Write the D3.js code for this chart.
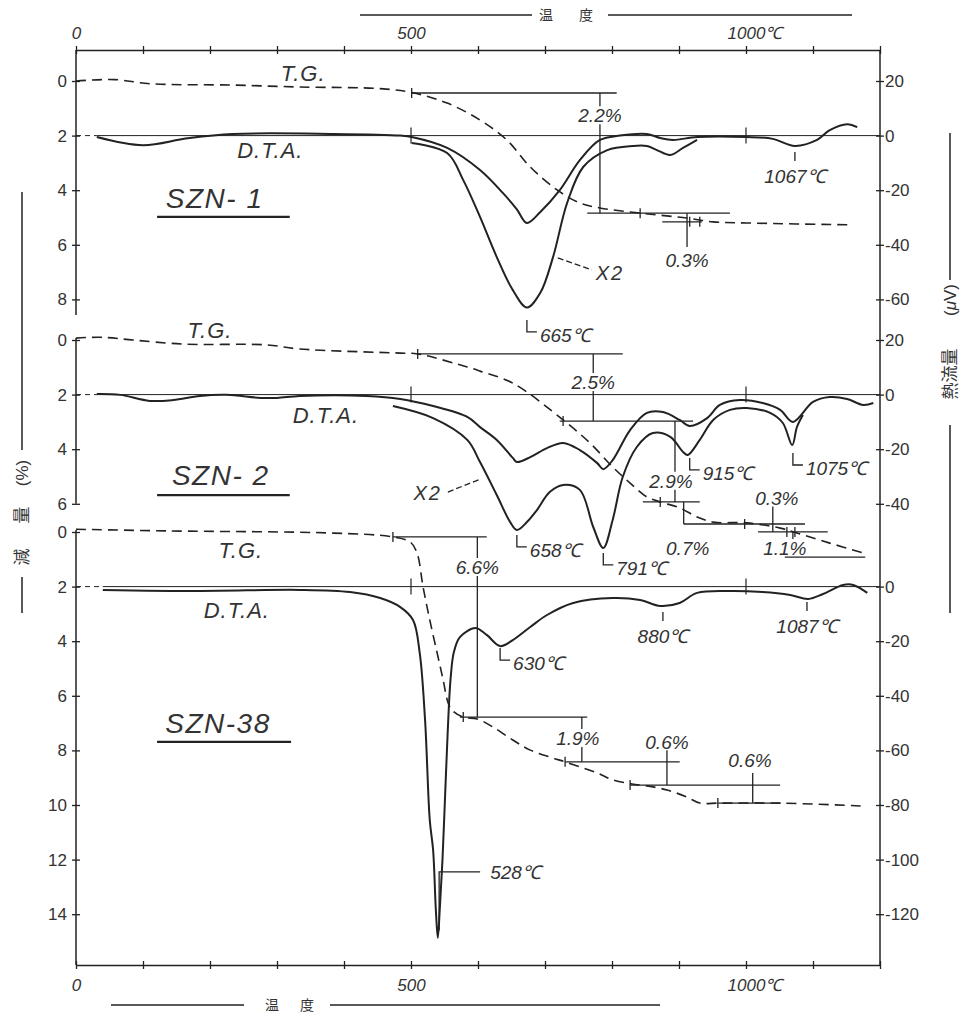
<!DOCTYPE html>
<html>
<head>
<meta charset="utf-8">
<script src="https://cdn.jsdelivr.net/npm/d3@7"></script>
<style>
  body { margin: 0; background: #fff; }
  svg text { font-family: "Liberation Sans", Arial, sans-serif; fill: #333; }
  svg text.cjk { font-family: "Noto Sans CJK JP", "Noto Sans CJK SC", sans-serif; }
  .it { font-style: italic; }
</style>
</head>
<body>
<svg id="chart" width="965" height="1017"></svg>
<script>
// temperature axis (°C)
const tempTicks = d3.range(0, 1201, 100);
const tempLabels = [0, 500, 1000];

// ---- SZN-1 : [temp °C, T.G. %] and [temp °C, D.T.A. μV]
const tg1 = [[0,0],[58,-0.05],[110,0.1],[234,0.15],[334,0.22],[454,0.28],[501,0.42],[554,0.81],[603,1.43],[643,2.16],[678,3.15],[718,3.99],[752,4.47],[782,4.65],[842,4.84],[912,5.02],[951,5.16],[1001,5.2],[1160,5.27]];
const dta1 = [[31,-0.5],[100,-3.5],[166,-1],[234,0.6],[384,0.6],[484,0],[501,-0.5],[554,-4.5],[603,-12.6],[637,-21],[658,-27],[673,-32],[693,-28],[722,-20],[752,-9],[782,-1.6],[812,0],[852,0.6],[872,-0.9],[891,-1.6],[927,-0.5],[1001,-0.5],[1040,-1.2],[1073,-3.8],[1106,-1.6],[1125,2],[1151,4.2],[1166,3.1]];
const dta1x2 = [[501,-2.7],[554,-6.4],[578,-16.3],[603,-29.8],[628,-44.5],[652,-56.6],[673,-63],[693,-57.6],[712,-44.5],[733,-24.7],[757,-11.5],[793,-5.3],[831,-3.8],[852,-3.8],[867,-5.3],[887,-7.1],[906,-4.5],[927,-1.6]];
const stepLines1 = [[501,807,0.44],[763,976,4.84],[875,934,5.16]];
const stepBars1 = [
  {lbl:'2.2%', t:782, v:[0.44,4.84], la:1.25},
  {lbl:'0.3%', t:912, v:[4.84,6.08], la:6.56}
];
const stepTicks1 = [[501,0.44],[842,4.84],[916,5.16],[931,5.16]];
const peaks1 = [
  {t:673, v:-67.5, lbl:'665℃', kind:'L'},
  {t:1073, v:-6, lbl:'1067℃', kind:'tick'}
];

// ---- SZN-2
const tg2 = [[0,-0.07],[36,-0.1],[85,0],[160,0.15],[285,0.18],[334,0.33],[484,0.48],[510,0.51],[584,0.99],[603,1.14],[652,1.58],[727,2.93],[767,3.77],[801,4.65],[827,5.24],[852,5.75],[872,5.93],[901,6.15],[927,6.48],[951,6.67],[1001,6.7],[1051,6.89],[1076,7.07],[1125,7.44],[1175,7.8]];
const dta2 = [[31,0.2],[66,-0.1],[110,-2.3],[145,-2],[185,-0.5],[225,-0.1],[275,-1.2],[300,-1.2],[334,-0.5],[434,-0.5],[484,-1.6],[533,-4.2],[584,-8.2],[603,-11.9],[628,-16.6],[652,-23.2],[658,-24.7],[678,-22.9],[703,-19.6],[727,-17.7],[752,-20.3],[778,-25.1],[787,-27.3],[801,-24],[827,-13],[852,-6.7],[876,-6.4],[901,-9.3],[916,-11.5],[942,-8.6],[961,-3.8],[991,-2],[1025,-3.1],[1051,-5.6],[1070,-10],[1100,-2.7],[1125,-0.9],[1151,-1.6],[1175,-3.8],[1190,-3.1]];
const dta2x2 = [[473,-4.2],[533,-8.6],[584,-16.6],[603,-24.7],[628,-36.8],[648,-46.7],[658,-49.6],[673,-46.7],[688,-42.3],[707,-35.7],[727,-33.1],[752,-34.9],[772,-48.5],[787,-56.2],[801,-45.9],[816,-30.2],[837,-19.2],[861,-14.1],[887,-15.5],[906,-21],[913,-22.1],[931,-16.6],[951,-9.3],[976,-5.6],[1001,-4.9],[1036,-6.7],[1055,-10.4],[1069,-18.5],[1076,-11.9],[1085,-7.5]];
const stepLines2 = [[510,816,0.51],[722,921,2.97],[846,931,5.93],[907,1088,6.74],[1018,1122,7.03],[1058,1178,7.95]];
const stepBars2 = [
  {lbl:'2.5%', t:772, v:[0.51,2.97], la:1.54},
  {lbl:'2.9%', t:894, v:[2.97,5.93], la:5.16, lt:888},
  {lbl:'0.7%', t:907, v:[5.93,6.74], la:7.62, lt:913},
  {lbl:'0.3%', t:1040, v:[6.1,7.03], la:5.79, lt:1046},
  {lbl:'1.1%', t:1070, v:[7.03,7.95], la:7.62, lt:1058}
];
const stepTicks2 = [[510,0.51],[727,2.97],[872,5.93],[998,6.74],[1061,7.03],[1073,7.03]];
const peaks2 = [
  {t:658, v:-51.4, lbl:'658℃', kind:'L'},
  {t:787, v:-58, lbl:'791℃', kind:'L'},
  {t:916, v:-23.2, lbl:'915℃', kind:'L'},
  {t:1070, v:-21.4, lbl:'1075℃', kind:'L'}
];

// ---- SZN-38
const tg3 = [[0,-0.1],[136,-0.04],[384,0.04],[473,0.18],[499,0.37],[509,0.77],[518,2.01],[528,3.22],[539,4.43],[548,5.42],[555,6.23],[561,6.52],[578,6.78],[599,6.85],[622,7.14],[652,7.62],[678,7.99],[712,8.28],[730,8.42],[778,8.83],[801,9.08],[830,9.23],[852,9.3],[882,9.45],[912,9.71],[931,9.93],[961,9.93],[1051,9.93],[1175,10.04]];
const dta3 = [[40,-1.2],[185,-1.6],[334,-1.2],[409,-2],[454,-4.2],[484,-7.5],[503,-12.2],[513,-24.3],[521,-48.9],[528,-85.5],[533,-96.5],[537,-118],[540,-128.7],[543,-118],[547,-100],[551,-76],[555,-52],[559,-34],[564,-24],[573,-18.5],[596,-15.2],[613,-17.7],[633,-21.8],[652,-19.6],[678,-14.8],[703,-10.4],[742,-6],[801,-4.2],[842,-4.9],[872,-7.1],[901,-6],[927,-2.3],[976,-1.6],[1025,-2],[1066,-3.1],[1093,-4.5],[1115,-2.7],[1145,0.6],[1160,0.6],[1181,-2.3]];
const stepLines3 = [[473,613,0.18],[573,763,6.78],[730,901,8.42],[827,1051,9.27],[958,1051,9.93]];
const stepBars3 = [
  {lbl:'6.6%', t:599, v:[0.18,6.78], la:1.28},
  {lbl:'1.9%', t:755, v:[6.78,8.42], la:7.55, lt:749},
  {lbl:'0.6%', t:882, v:[7.99,9.27], la:7.69},
  {lbl:'0.6%', t:1010, v:[8.83,9.93], la:8.35, lt:1006}
];
const stepTicks3 = [[473,0.18],[578,6.78],[730,8.42],[827,9.27],[958,9.93]];
const peaks3 = [
  {t:542, v:-126, v2:-104.5, lbl:'528℃', kind:'hook'},
  {t:633, v:-22.5, lbl:'630℃', kind:'L'},
  {t:876, v:-9.3, lbl:'880℃', kind:'tick'},
  {t:1091, v:-5.6, lbl:'1087℃', kind:'tick'}
];

const leftTicks = [[0,2,4,6,8],[0,2,4,6],[0,2,4,6,8,10,12,14]];
const rightTicks = [[20,0,-20,-40,-60],[20,0,-20,-40],[0,-20,-40,-60,-80,-100,-120]];
const names = ['SZN- 1', 'SZN- 2', 'SZN-38'];

// ---------- layout
const ink = '#222';
const svg = d3.select('#chart');
const x = d3.scaleLinear().domain([0, 1200]).range([76, 880]);
const pxPct = 27.3;                 // px per 1 % (= 10 μV)
const panelTops = [81, 340, 532];
const leftSpan = [[-1.14, 8.57], [-0.07, 6.0], [-0.07, 15.86]];
const notes = [
  {tg:[339,-0.29], dta:[290,2.53], name:[207,4.65], under:[121,319,4.98], x2:{at:[797,-50.3], from:[719,-44.8], to:[770,-49.2]}},
  {tg:[200,-0.37], dta:[373,2.74], name:[216,5.31], under:[121,319,5.68], x2:{at:[525,-36], from:[555,-35.7], to:[603,-31]}},
  {tg:[246,0.66], dta:[240,2.86], name:[212,7.35], under:[121,321,7.69]}
];
const data = [
  {tg:tg1, dta:dta1, x2:dta1x2, lines:stepLines1, bars:stepBars1, ticks:stepTicks1, peaks:peaks1},
  {tg:tg2, dta:dta2, x2:dta2x2, lines:stepLines2, bars:stepBars2, ticks:stepTicks2, peaks:peaks2},
  {tg:tg3, dta:dta3, x2:null, lines:stepLines3, bars:stepBars3, ticks:stepTicks3, peaks:peaks3}
];

function seg(g, x1, y1, x2, y2, w) {
  return g.append('line').attr('x1', x1).attr('y1', y1).attr('x2', x2).attr('y2', y2)
    .attr('stroke', ink).attr('stroke-width', w || 1.3);
}

// temperature axes, top and bottom
function tempAxis(y, top) {
  const ax = (top ? d3.axisTop(x) : d3.axisBottom(x)).tickValues(tempTicks)
    .tickSize(4).tickSizeOuter(0).tickFormat(d => tempLabels.includes(d) ? d : '');
  const g = svg.append('g').attr('transform', `translate(0,${y})`).call(ax);
  g.select('.domain').attr('stroke', ink).attr('stroke-width', 1.5);
  g.selectAll('.tick line').attr('y1', -4).attr('y2', 4).attr('stroke', ink).attr('stroke-width', 1.3);
  g.selectAll('.tick text').classed('it', true).style('font-size', '17px')
    .attr('y', top ? -11 : 14);
  g.selectAll('.tick text').filter(d => d === 1000).each(function() {
    const w = this.getComputedTextLength();
    d3.select(this).attr('text-anchor', 'start').attr('x', -w / 2).text('1000℃');
  });
}
tempAxis(50, true);
tempAxis(965, false);

function tempTitle(y, l1, l2, c1, c2, r1, r2) {
  seg(svg, l1, y, l2, y, 1.5);
  seg(svg, r1, y, r2, y, 1.5);
  svg.append('text').attr('class', 'cjk').attr('x', c1).attr('y', y).attr('dy', '0.35em').attr('text-anchor', 'middle')
    .style('font-size', '14px').text('温');
  svg.append('text').attr('class', 'cjk').attr('x', c2).attr('y', y).attr('dy', '0.35em').attr('text-anchor', 'middle')
    .style('font-size', '14px').text('度');
}
tempTitle(15, 360, 532, 546, 586, 608, 852);
tempTitle(1005, 111, 244, 272, 307, 330, 660);

// right axis line
seg(svg, x(1200), 50, x(1200), 965, 1.5);

// vertical titles
function vText(xp, yp, s, cls) {
  svg.append('text').attr('class', cls || null).attr('transform', `translate(${xp},${yp}) rotate(-90)`)
    .attr('text-anchor', 'middle').attr('dy', '0.35em').style('font-size', '17px').text(s);
}
seg(svg, 22, 192, 22, 450, 1.5); seg(svg, 22, 577, 22, 613, 1.5);
vText(22, 473, '(%)'); vText(22, 515, '量', 'cjk'); vText(22, 557, '減', 'cjk');
seg(svg, 950, 133, 950, 280, 1.5); seg(svg, 950, 425, 950, 613, 1.5);
svg.append('text').attr('transform', 'translate(950,300) rotate(-90)').attr('text-anchor', 'middle')
  .attr('dy', '0.35em').style('font-size', '17px')
  .html('(<tspan font-style="italic">μ</tspan>V)');
vText(950, 374, '熱流量', 'cjk');

data.forEach((p, i) => {
  const top = panelTops[i];
  const yT = d3.scaleLinear().domain([0, 1]).range([top, top + pxPct]);
  const yD = d3.scaleLinear().domain([0, -10]).range([top + 2 * pxPct, top + 3 * pxPct]);
  const g = svg.append('g');

  // left axis (T.G. %)
  const lg = g.append('g').attr('transform', `translate(${x(0)},0)`)
    .call(d3.axisLeft(yT).tickValues(leftTicks[i]).tickSize(4).tickSizeOuter(0).tickFormat(d => String(d)));
  lg.select('.domain').remove();
  seg(lg, 0, yT(leftSpan[i][0]), 0, yT(leftSpan[i][1]), 1.5);
  lg.selectAll('.tick line').attr('x1', -4).attr('x2', 4).attr('stroke', ink).attr('stroke-width', 1.3);
  lg.selectAll('.tick text').attr('x', -9).style('font-size', '17px');

  // right axis (D.T.A. μV)
  const rg = g.append('g').attr('transform', `translate(${x(1200)},0)`)
    .call(d3.axisRight(yD).tickValues(rightTicks[i]).tickSize(4).tickSizeOuter(0).tickFormat(d => String(d)));
  rg.select('.domain').remove();
  rg.selectAll('.tick line').attr('x1', -4).attr('x2', 4).attr('stroke', ink).attr('stroke-width', 1.3);
  rg.selectAll('.tick text').attr('x', 5).style('font-size', '17px');

  // D.T.A. zero line
  const y0 = yD(0);
  g.append('line').attr('x1', x(0)).attr('x2', x(p.dta[0][0])).attr('y1', y0).attr('y2', y0)
    .attr('stroke', ink).attr('stroke-width', 1).attr('stroke-dasharray', '5,4');
  seg(g, x(p.dta[0][0]), y0, x(1200), y0, 1);
  [500, 1000].forEach(t => seg(g, x(t), y0 - 8, x(t), y0 + 8, 1.2));

  // curves
  const lineT = d3.line().x(d => x(d[0])).y(d => yT(d[1])).curve(d3.curveCatmullRom.alpha(0.5));
  const lineD = d3.line().x(d => x(d[0])).y(d => yD(d[1])).curve(d3.curveCatmullRom.alpha(0.5));
  g.append('path').attr('d', lineT(p.tg)).attr('fill', 'none').attr('stroke', ink)
    .attr('stroke-width', 1.6).attr('stroke-dasharray', '10,6');
  g.append('path').attr('d', lineD(p.dta)).attr('fill', 'none').attr('stroke', ink).attr('stroke-width', 2);
  if (p.x2) g.append('path').attr('d', lineD(p.x2)).attr('fill', 'none').attr('stroke', ink).attr('stroke-width', 2);

  // weight-loss steps
  p.lines.forEach(([t0, t1, v]) => seg(g, x(t0), yT(v), x(t1), yT(v)));
  p.ticks.forEach(([t, v]) => seg(g, x(t), yT(v) - 5, x(t), yT(v) + 5));
  p.bars.forEach(b => {
    const xv = x(b.t), ya = yT(b.v[0]), yb = yT(b.v[1]), yl = yT(b.la);
    const parts = (yl > ya && yl < yb) ? [[ya, yl - 9], [yl + 9, yb]] : [[ya, yb]];
    parts.filter(s => s[1] > s[0]).forEach(s => seg(g, xv, s[0], xv, s[1]));
    g.append('text').classed('it', true).attr('x', x(b.lt || b.t)).attr('y', yl).attr('dy', '0.35em')
      .attr('text-anchor', 'middle').style('font-size', '19px').text(b.lbl);
  });

  // peak temperatures
  p.peaks.forEach(k => {
    const px = x(k.t), py = yD(k.v);
    if (k.kind === 'L') {
      g.append('path').attr('d', `M${px},${py}V${py + 12}H${px + 10}`).attr('fill', 'none')
        .attr('stroke', ink).attr('stroke-width', 1.3);
      g.append('text').classed('it', true).attr('x', px + 13).attr('y', py + 15).attr('dy', '0.35em')
        .style('font-size', '19px').text(k.lbl);
    } else if (k.kind === 'tick') {
      seg(g, px, py, px, py + 9);
      g.append('text').classed('it', true).attr('x', px).attr('y', py + 24).attr('dy', '0.35em')
        .attr('text-anchor', 'middle').style('font-size', '19px').text(k.lbl);
    } else {
      const py2 = yD(k.v2);
      g.append('path').attr('d', `M${px},${py}V${py2}H${px + 41}`).attr('fill', 'none')
        .attr('stroke', ink).attr('stroke-width', 1.3);
      g.append('text').classed('it', true).attr('x', px + 51).attr('y', py2).attr('dy', '0.35em')
        .style('font-size', '19px').text(k.lbl);
    }
  });

  // curve names and sample name
  const n = notes[i];
  g.append('text').classed('it', true).attr('x', x(n.tg[0])).attr('y', yT(n.tg[1])).attr('dy', '0.35em')
    .attr('text-anchor', 'middle').style('font-size', '22px').style('letter-spacing', '1px').text('T.G.');
  g.append('text').classed('it', true).attr('x', x(n.dta[0])).attr('y', yT(n.dta[1])).attr('dy', '0.35em')
    .attr('text-anchor', 'middle').style('font-size', '22px').style('letter-spacing', '1px').text('D.T.A.');
  g.append('text').classed('it', true).attr('x', x(n.name[0])).attr('y', yT(n.name[1]))
    .attr('text-anchor', 'middle').style('font-size', '28px').style('letter-spacing', '1.5px').text(names[i]);
  seg(g, x(n.under[0]), yT(n.under[2]), x(n.under[1]), yT(n.under[2]), 2.2);
  if (n.x2) {
    g.append('line').attr('x1', x(n.x2.from[0])).attr('y1', yD(n.x2.from[1]))
      .attr('x2', x(n.x2.to[0])).attr('y2', yD(n.x2.to[1]))
      .attr('stroke', ink).attr('stroke-width', 1.3).attr('stroke-dasharray', '6,3');
    g.append('text').classed('it', true).attr('x', x(n.x2.at[0])).attr('y', yD(n.x2.at[1])).attr('dy', '0.35em')
      .attr('text-anchor', 'middle').style('font-size', '20px').style('letter-spacing', '2px').text('X2');
  }
});
</script>
</body>
</html>
